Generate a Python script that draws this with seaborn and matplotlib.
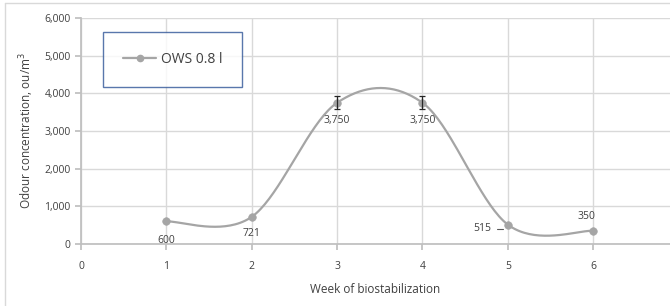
import numpy as np
import pandas as pd
import matplotlib
matplotlib.use("Agg")
import matplotlib.pyplot as plt
from matplotlib.lines import Line2D
import seaborn as sns

# dados
weeks = [1, 2, 3, 4, 5, 6]
odour = [600, 721, 3750, 3750, 515, 350]
odour_err = [0, 0, 170, 170, 0, 0]
labels = ["600", "721", "3,750", "3,750", "515", "350"]
series_name = "OWS 0.8 l"

sns.set_theme(style="white")
plt.rcParams["font.family"] = ["Open Sans", "DejaVu Sans"]

line_col = "#A5A5A5"
grid_col = "#D9D9D9"
text_col = "#404040"


def smooth_curve(x, y, n=40):
    # curva suavizada tipo Excel (Catmull-Rom / Bezier)
    x = np.asarray(x, float)
    y = np.asarray(y, float)
    px = np.concatenate([[x[0]], x, [x[-1]]])
    py = np.concatenate([[y[0]], y, [y[-1]]])
    xs, ys = [], []
    t = np.linspace(0, 1, n)
    for i in range(1, len(px) - 2):
        p0 = np.array([px[i], py[i]])
        p3 = np.array([px[i + 1], py[i + 1]])
        c1 = p0 + (np.array([px[i + 1], py[i + 1]]) - np.array([px[i - 1], py[i - 1]])) / 6
        c2 = p3 - (np.array([px[i + 2], py[i + 2]]) - np.array([px[i], py[i]])) / 6
        b = ((1 - t) ** 3)[:, None] * p0 + (3 * (1 - t) ** 2 * t)[:, None] * c1 \
            + (3 * (1 - t) * t ** 2)[:, None] * c2 + (t ** 3)[:, None] * p3
        xs.extend(b[:, 0])
        ys.extend(b[:, 1])
    return np.array(xs), np.array(ys)


df = pd.DataFrame({"week": weeks, "odour": odour, "err": odour_err})
sx, sy = smooth_curve(weeks, odour)
curve = pd.DataFrame({"week": sx, "odour": sy})

fig = plt.figure(figsize=(6.7, 3.06), dpi=100)
ax = fig.add_axes([81 / 670, 62 / 306, 589 / 670, 226 / 306])

sns.lineplot(data=curve, x="week", y="odour", ax=ax, color=line_col,
             linewidth=1.6, sort=False, estimator=None, zorder=3)
sns.scatterplot(data=df, x="week", y="odour", ax=ax, color=line_col,
                s=30, edgecolor=line_col, zorder=4)
has_err = df["err"] > 0
ax.errorbar(df.loc[has_err, "week"], df.loc[has_err, "odour"],
            yerr=df.loc[has_err, "err"], fmt="none", ecolor="#262626",
            elinewidth=0.9, capsize=2.3, capthick=0.9, zorder=5)

# rotulos dos dados
offsets = [(0, -13.5), (0, -12), (0, -12.5), (0, -12.5), (-12, -3), (-5, 10)]
for x, y, lab, off in zip(weeks, odour, labels, offsets):
    ha = "right" if off[0] < -10 else "center"
    ax.annotate(lab, (x, y), xytext=off, textcoords="offset points",
                ha=ha, va="center", fontsize=7.5, color=text_col, zorder=6)
# linha de chamada do rotulo 515
ax.plot([4.87, 4.94], [400, 400], color="#595959", lw=0.8, zorder=6)

ax.set_xlim(0, 6.9)
ax.set_ylim(0, 6000)
ax.set_xticks(range(0, 7))
ax.set_yticks(range(0, 6001, 1000))
ax.set_yticklabels([f"{v:,}" for v in range(0, 6001, 1000)])
ax.grid(True, color=grid_col, linewidth=1)
ax.set_axisbelow(True)
for s in ["top", "right"]:
    ax.spines[s].set_visible(False)
ax.spines["left"].set_color("#BFBFBF")
ax.spines["bottom"].set_color("#BFBFBF")
ax.tick_params(axis="both", labelsize=7.5, colors=text_col, length=4,
               color="#BFBFBF", direction="out", left=True, bottom=True)
ax.tick_params(axis="x", pad=8)
ax.set_xlabel("Week of biostabilization", fontsize=8.5, color=text_col, labelpad=8)
ax.set_ylabel("Odour concentration, ou/m$^3$", fontsize=8.5, color=text_col, labelpad=6)

handle = Line2D([], [], color=line_col, linewidth=1.6, marker="o", markersize=4.5)
leg = ax.legend([handle], [series_name], loc="upper left",
                bbox_to_anchor=(22 / 589, 1 - 14 / 226), fontsize=10,
                frameon=True, fancybox=False, borderpad=1.45,
                handlelength=2.4, handletextpad=0.3, borderaxespad=0)
leg.get_frame().set_edgecolor("#2F5597")
leg.get_frame().set_linewidth(1)
for t in leg.get_texts():
    t.set_color(text_col)

# borda do grafico (Excel)
fig.add_artist(Line2D([5 / 670, 5 / 670], [0, 1 - 3 / 306], color="#D9D9D9", lw=1))
fig.add_artist(Line2D([5 / 670, 1], [1 - 3 / 306, 1 - 3 / 306], color="#D9D9D9", lw=1))

fig.savefig("out.png", dpi=100)
